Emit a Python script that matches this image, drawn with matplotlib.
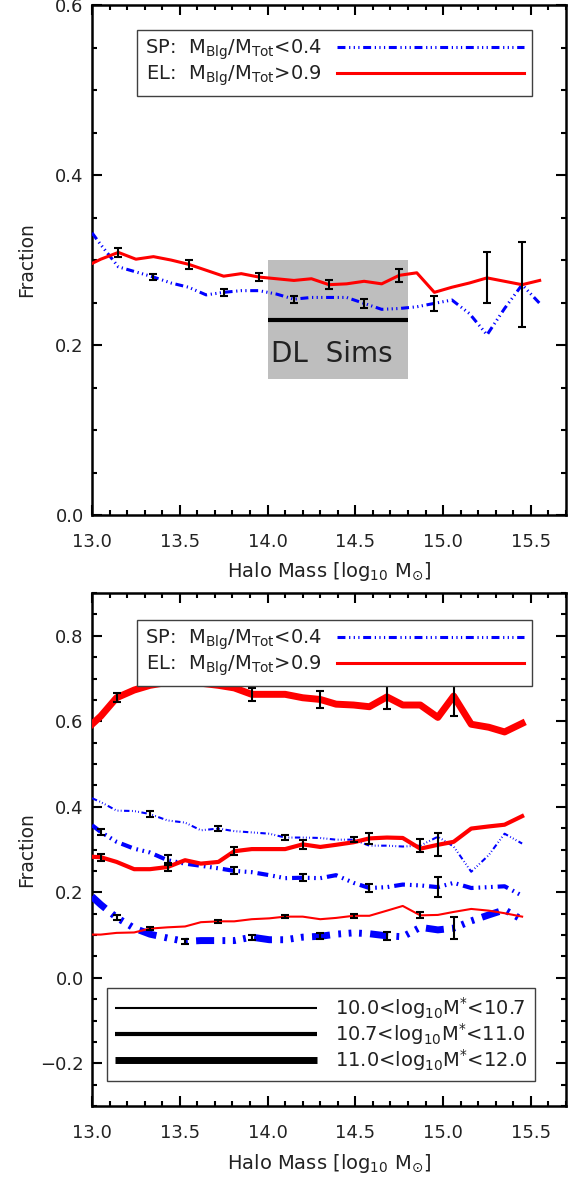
import matplotlib
matplotlib.use("Agg")
import matplotlib.pyplot as plt
from matplotlib.lines import Line2D
from matplotlib.ticker import MultipleLocator

# ---- top panel: all galaxies ----
x_top = [13.00, 13.05, 13.15, 13.25, 13.35, 13.45, 13.55, 13.65, 13.75, 13.85,
         13.95, 14.05, 14.15, 14.25, 14.35, 14.45, 14.55, 14.65, 14.75, 14.85,
         14.95, 15.05, 15.15, 15.25, 15.35, 15.45, 15.55]
el_top = [0.296, 0.301, 0.309, 0.301, 0.304, 0.300, 0.295, 0.288, 0.281, 0.284,
          0.280, 0.278, 0.276, 0.278, 0.271, 0.272, 0.275, 0.272, 0.282, 0.285,
          0.262, 0.268, 0.273, 0.279, 0.275, 0.271, 0.276]
sp_top = [0.332, 0.318, 0.292, 0.286, 0.280, 0.273, 0.268, 0.259, 0.262, 0.264,
          0.264, 0.260, 0.254, 0.256, 0.256, 0.256, 0.249, 0.242, 0.243, 0.245,
          0.249, 0.253, 0.237, 0.212, 0.243, 0.271, 0.249]
el_top_idx = [2, 6, 10, 14, 18, 23]
el_top_err = [0.005, 0.005, 0.005, 0.005, 0.008, 0.030]
sp_top_idx = [4, 8, 12, 16, 20, 25]
sp_top_err = [0.004, 0.004, 0.004, 0.005, 0.009, 0.050]

# DL Sims band
dl_x = [14.0, 14.8]
dl_lo, dl_hi, dl_frac = 0.16, 0.30, 0.23

# ---- bottom panel: split in stellar mass ----
x_bot = [13.00, 13.05, 13.14, 13.24, 13.33, 13.43, 13.53, 13.62, 13.72, 13.81,
         13.91, 14.01, 14.10, 14.20, 14.30, 14.39, 14.49, 14.58, 14.68, 14.77,
         14.87, 14.97, 15.06, 15.16, 15.26, 15.35, 15.45]
sp_lo = [0.420, 0.411, 0.391, 0.390, 0.383, 0.368, 0.363, 0.345, 0.349, 0.343,
         0.340, 0.337, 0.328, 0.328, 0.327, 0.323, 0.323, 0.309, 0.309, 0.307,
         0.309, 0.330, 0.307, 0.248, 0.287, 0.337, 0.314]
sp_mid = [0.357, 0.341, 0.318, 0.302, 0.293, 0.275, 0.267, 0.262, 0.256, 0.250,
          0.247, 0.240, 0.233, 0.234, 0.233, 0.240, 0.222, 0.210, 0.212, 0.218,
          0.216, 0.212, 0.222, 0.210, 0.212, 0.214, 0.192]
sp_hi = [0.190, 0.171, 0.141, 0.116, 0.102, 0.093, 0.085, 0.087, 0.087, 0.087,
         0.095, 0.089, 0.089, 0.095, 0.097, 0.102, 0.105, 0.103, 0.098, 0.096,
         0.118, 0.112, 0.116, 0.133, 0.147, 0.159, 0.136]
el_lo = [0.101, 0.101, 0.105, 0.106, 0.115, 0.118, 0.120, 0.130, 0.132, 0.132,
         0.137, 0.139, 0.143, 0.143, 0.137, 0.140, 0.145, 0.145, 0.157, 0.168,
         0.146, 0.147, 0.154, 0.161, 0.157, 0.151, 0.143]
el_mid = [0.283, 0.282, 0.271, 0.254, 0.254, 0.259, 0.275, 0.267, 0.271, 0.296,
          0.301, 0.301, 0.301, 0.312, 0.306, 0.311, 0.317, 0.326, 0.328, 0.327,
          0.302, 0.311, 0.318, 0.349, 0.354, 0.358, 0.378]
el_hi = [0.593, 0.612, 0.655, 0.673, 0.684, 0.691, 0.698, 0.689, 0.684, 0.678,
         0.663, 0.663, 0.663, 0.655, 0.651, 0.640, 0.638, 0.634, 0.657, 0.638,
         0.638, 0.609, 0.659, 0.593, 0.586, 0.575, 0.595]

lo_idx = [4, 8, 12, 16, 20]
mid_idx = [1, 5, 9, 13, 17, 21]
hi_idx = [2, 6, 10, 14, 18, 22]
sp_lo_err = [0.007, 0.006, 0.005, 0.006, 0.015]
el_lo_err = [0.004, 0.004, 0.004, 0.005, 0.007]
sp_mid_err = [0.007, 0.012, 0.008, 0.008, 0.009, 0.024]
el_mid_err = [0.008, 0.010, 0.010, 0.011, 0.013, 0.027]
sp_hi_err = [0.006, 0.006, 0.006, 0.007, 0.009, 0.025]
el_hi_err = [0.011, 0.011, 0.015, 0.019, 0.028, 0.046]

mass_labels = [r'10.0<log$_{10}$M$^{*}$<10.7',
               r'10.7<log$_{10}$M$^{*}$<11.0',
               r'11.0<log$_{10}$M$^{*}$<12.0']
sp_label = r'SP:  M$_{\rm Blg}$/M$_{\rm Tot}$<0.4'
el_label = r'EL:  M$_{\rm Blg}$/M$_{\rm Tot}$>0.9'

RED = '#ff0000'
BLUE = '#0000ff'
DASH = (0, (2.6, 1.2, 0.4, 1.1, 0.4, 1.1, 0.4, 1.2))   # dash-dot-dot-dot
LW = [1.5, 3.0, 5.0]

plt.rcParams['font.family'] = 'DejaVu Sans'
plt.rcParams['font.size'] = 13
plt.rcParams['mathtext.default'] = 'regular'
TXT = '#222222'
LEG_FS = 14


def style_axes(ax, ylim, xlab=r'Halo Mass [log$_{10}$ M$_{\odot}$]'):
    ax.set_xlim(13.0, 15.7)
    ax.set_ylim(*ylim)
    ax.xaxis.set_major_locator(MultipleLocator(0.5))
    ax.xaxis.set_minor_locator(MultipleLocator(0.1))
    ax.yaxis.set_major_locator(MultipleLocator(0.2))
    ax.yaxis.set_minor_locator(MultipleLocator(0.05))
    ax.xaxis.set_major_formatter(lambda v, p: '%.1f' % v)
    ax.yaxis.set_major_formatter(lambda v, p: ('%.1f' % v).replace('-', '\u2212'))
    ax.tick_params(which='both', direction='in', top=True, right=True,
                   colors='black', labelcolor=TXT, width=1.5)
    ax.tick_params(which='major', length=7)
    ax.tick_params(which='minor', length=3.5)
    ax.tick_params(axis='x', pad=13)
    ax.tick_params(axis='y', pad=6)
    for s in ax.spines.values():
        s.set_linewidth(1.8)
    ax.set_xlabel(xlab, color=TXT, fontsize=14)
    ax.set_ylabel('Fraction', color=TXT, fontsize=13.5)
    ax.xaxis.set_label_coords(0.5, -0.089)
    ax.yaxis.set_label_coords(-0.118, 0.5)


def type_legend(ax, anchor):
    h = [Line2D([], [], color=BLUE, lw=2.2, linestyle=DASH),
         Line2D([], [], color=RED, lw=2.2)]
    leg = ax.legend(h, [sp_label, el_label], loc='upper left', bbox_to_anchor=anchor,
                    borderaxespad=0, markerfirst=False, handlelength=9.6,
                    handletextpad=0.8, labelspacing=0.05, borderpad=0.4,
                    fontsize=LEG_FS, fancybox=False, framealpha=1, edgecolor='#404040')
    leg.get_frame().set_linewidth(1.0)
    for t in leg.get_texts():
        t.set_color(TXT)
    return leg


def bars(ax, x, y, idx, err):
    ax.errorbar([x[i] for i in idx], [y[i] for i in idx], yerr=err, fmt='none',
                ecolor='black', elinewidth=1.5, capsize=3, capthick=1.5, zorder=4)


fig = plt.figure(figsize=(5.68, 11.78), dpi=100)
ax1 = fig.add_axes([0.162, 0.5628, 0.8345, 0.4329])
ax2 = fig.add_axes([0.162, 0.0611, 0.8345, 0.4355])

# top panel
ax1.fill_between(dl_x, dl_lo, dl_hi, color='#bebebe', lw=0, zorder=1)
ax1.plot(dl_x, [dl_frac, dl_frac], color='black', lw=3, solid_capstyle='butt', zorder=2)
ax1.text(dl_x[0] + 0.02, 0.189, 'DL  Sims', fontsize=20, va='center', ha='left',
         color=TXT, zorder=2)
ax1.plot(x_top, sp_top, color=BLUE, lw=2.2, linestyle=DASH, zorder=3)
ax1.plot(x_top, el_top, color=RED, lw=2.2, zorder=3)
bars(ax1, x_top, el_top, el_top_idx, el_top_err)
bars(ax1, x_top, sp_top, sp_top_idx, sp_top_err)
style_axes(ax1, (0.0, 0.6))
type_legend(ax1, (0.095, 0.951))

# bottom panel
for y, lw in zip([sp_lo, sp_mid, sp_hi], LW):
    ax2.plot(x_bot, y, color=BLUE, lw=lw, linestyle=DASH, zorder=3)
for y, lw in zip([el_lo, el_mid, el_hi], LW):
    ax2.plot(x_bot, y, color=RED, lw=lw, zorder=3)
bars(ax2, x_bot, sp_lo, lo_idx, sp_lo_err)
bars(ax2, x_bot, el_lo, lo_idx, el_lo_err)
bars(ax2, x_bot, sp_mid, mid_idx, sp_mid_err)
bars(ax2, x_bot, el_mid, mid_idx, el_mid_err)
bars(ax2, x_bot, sp_hi, hi_idx, sp_hi_err)
bars(ax2, x_bot, el_hi, hi_idx, el_hi_err)
style_axes(ax2, (-0.3, 0.9))
leg_t = type_legend(ax2, (0.095, 0.947))
ax2.add_artist(leg_t)

mh = [Line2D([], [], color='black', lw=lw, solid_capstyle='butt') for lw in LW]
leg_m = ax2.legend(mh, mass_labels, loc='lower left', bbox_to_anchor=(0.032, 0.049),
                   borderaxespad=0, handlelength=10.4, handletextpad=0.9,
                   labelspacing=0.0, borderpad=0.4, fontsize=LEG_FS,
                   fancybox=False, framealpha=1, edgecolor='#404040')
leg_m.get_frame().set_linewidth(1.0)
for t in leg_m.get_texts():
    t.set_color(TXT)

fig.savefig('out.png', dpi=100)
